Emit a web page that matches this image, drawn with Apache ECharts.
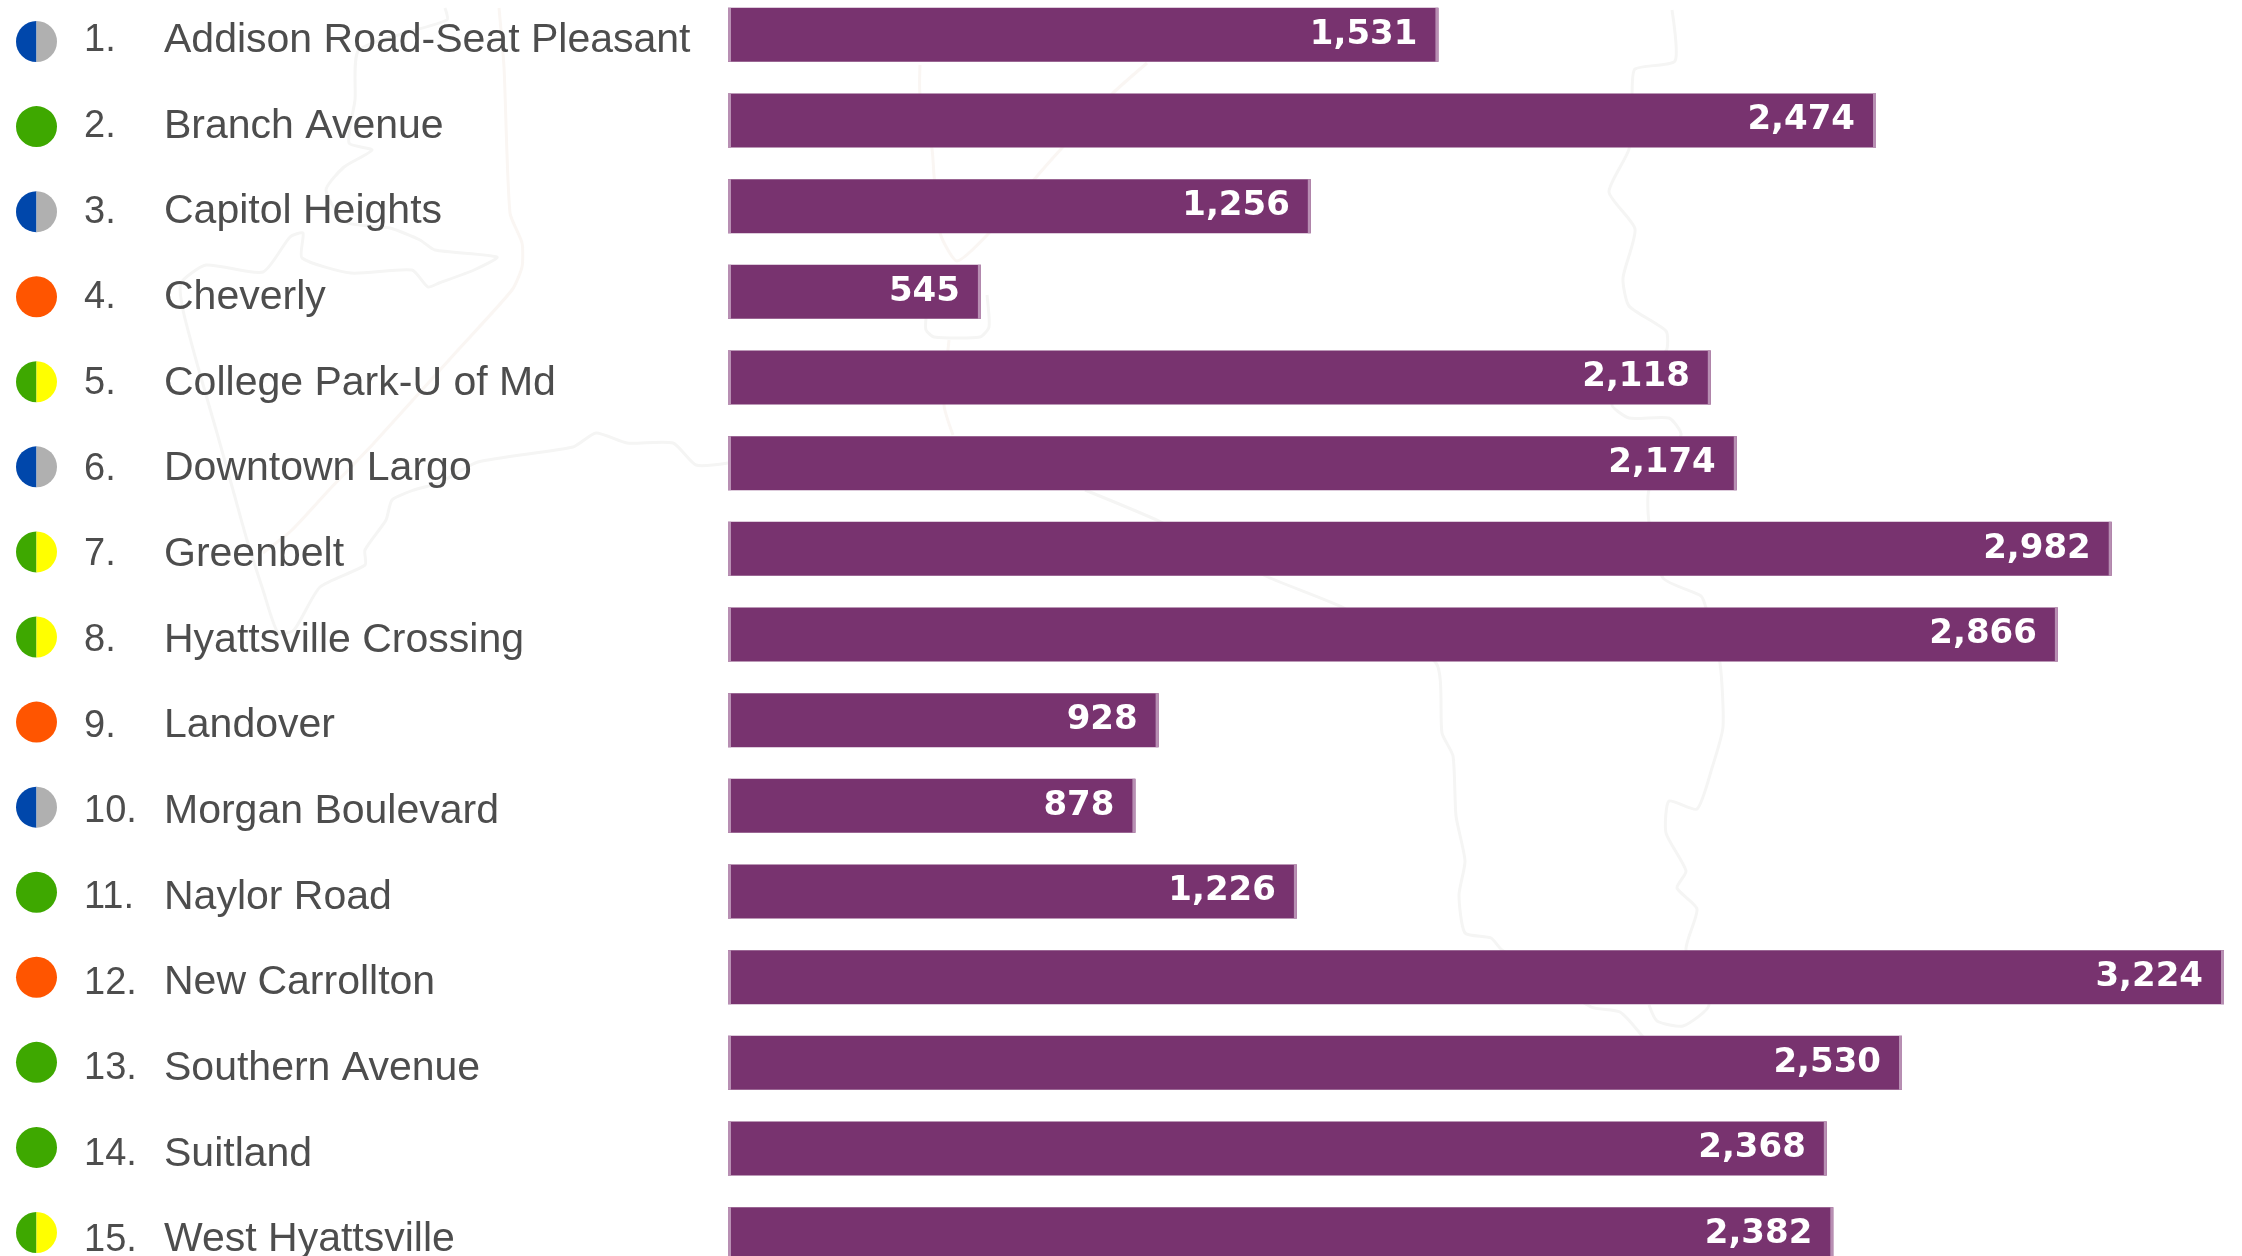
<!DOCTYPE html>
<html>
<head>
<meta charset="utf-8">
<title>Metro stations</title>
<script src="https://cdn.jsdelivr.net/npm/echarts@6/dist/echarts.min.js"></script>
<style>
    html, body { margin: 0; padding: 0; background: #fff; }
    #chart { width: 2242px; height: 1256px; }
</style>
</head>
<body>
<div id="chart"></div>
<script>
// station names, in list order
const stations = [
    "Addison Road-Seat Pleasant", "Branch Avenue", "Capitol Heights", "Cheverly",
    "College Park-U of Md", "Downtown Largo", "Greenbelt", "Hyattsville Crossing",
    "Landover", "Morgan Boulevard", "Naylor Road", "New Carrollton",
    "Southern Avenue", "Suitland", "West Hyattsville"
];
const values = [1531, 2474, 1256, 545, 2118, 2174, 2982, 2866, 928, 878, 1226, 3224, 2530, 2368, 2382];
// metro lines serving each station: left half and right half of the dot
const leftLine = ["blue", "green", "blue", "orange", "green", "blue", "green", "green", "orange", "blue", "green", "orange", "green", "green", "green"];
const rightLine = ["silver", "green", "silver", "orange", "yellow", "silver", "yellow", "yellow", "orange", "silver", "green", "orange", "green", "green", "yellow"];

const lineColors = { blue: "#0047ab", silver: "#b0b0b0", green: "#3ea800", orange: "#ff5500", yellow: "#ffff00" };
const barColor = "#78336f";
const edgeColor = "#b88fb3";

// faint county outline behind the chart, decoration only (not data)
const outlineGrey = [
    [[445, 8], [447, 20], [359, 50], [355, 100], [349, 143], [372, 150], [344, 167], [326, 190], [345, 222], [390, 228], [420, 240], [435, 250], [497, 257], [474, 270], [439, 283], [428, 287], [412, 270], [351, 273], [302, 258], [303, 233], [290, 237], [263, 272], [206, 265], [181, 283], [183, 310], [198, 367], [217, 433], [233, 490], [247, 540], [263, 590], [278, 633], [294, 630], [320, 587], [365, 565], [365, 550], [386, 520], [392, 500], [414, 490], [439, 483], [478, 462], [573, 447], [596, 433], [627, 443], [673, 443], [696, 465], [728, 463]],
    [[926, 318], [926, 330], [934, 337], [980, 337], [989, 327], [987, 295]],
    [[1085, 490], [1161, 522], [1268, 577], [1344, 608], [1436, 663], [1442, 733], [1453, 756], [1456, 816], [1465, 861], [1459, 895], [1465, 933], [1491, 938], [1502, 950], [1591, 1007], [1620, 1012], [1643, 1037]],
    [[1672, 10], [1675, 61], [1635, 69], [1632, 94], [1629, 149], [1609, 192], [1635, 229], [1623, 278], [1629, 306], [1666, 331], [1666, 351], [1612, 404], [1629, 418], [1669, 418], [1681, 435], [1649, 490], [1649, 522], [1663, 578], [1701, 596], [1706, 608], [1720, 663], [1723, 727], [1712, 768], [1697, 809], [1669, 801], [1666, 833], [1686, 871], [1677, 888], [1697, 909], [1686, 950], [1709, 1005], [1683, 1026], [1657, 1021], [1649, 1005]]
];
const outlineWarm = [
    [[499, 8], [504, 67], [510, 213], [522, 243], [522, 267], [512, 290], [458, 350], [374, 443], [329, 490], [292, 530], [263, 553]],
    [[920, 65], [920, 94], [932, 149], [934, 175], [940, 233], [957, 261], [989, 233], [1038, 175], [1061, 149], [1112, 94], [1147, 63]],
    [[949, 340], [944, 405], [953, 435]]
];

function outlineGraphic(paths, color) {
    return paths.map((points) => ({
        type: "polyline",
        silent: true,
        z: 0,
        shape: { points: points, smooth: 0.2 },
        style: { fill: null, stroke: color, lineWidth: 3 }
    }));
}

const chart = echarts.init(document.getElementById("chart"), null, { renderer: "canvas" });

const option = {
    animation: false,
    backgroundColor: "#ffffff",
    graphic: outlineGraphic(outlineGrey, "#f5f5f4").concat(outlineGraphic(outlineWarm, "#faf6f3")),
    grid: [
        // bars; the last row runs off the bottom of the page
        { left: 728, top: -8, width: 1496, height: 1285, outerBoundsMode: "none" },
        // dots, their rows are a little tighter than the bars
        { left: 0, top: -1, width: 100, height: 1276, outerBoundsMode: "none" }
    ],
    xAxis: [
        { type: "value", gridIndex: 0, min: 0, max: 3224, show: false },
        { type: "value", gridIndex: 1, min: 0, max: 100, show: false }
    ],
    yAxis: [
        {
            type: "category",
            gridIndex: 0,
            inverse: true,
            data: stations,
            axisLine: { show: false },
            axisTick: { show: false },
            axisLabel: {
                interval: 0,
                align: "left",
                margin: 644,
                padding: [12, 0, 0, 0],
                formatter: (name, i) => "{num|" + (i + 1) + ".}{name|" + name + "}",
                rich: {
                    num: { width: 80, align: "left", fontFamily: "Liberation Sans", fontSize: 38, color: "#4d4d4d" },
                    name: { fontFamily: "Liberation Sans", fontSize: 41, color: "#4d4d4d" }
                }
            }
        },
        { type: "category", gridIndex: 1, inverse: true, data: stations, show: false }
    ],
    series: [
        {
            type: "bar",
            xAxisIndex: 0,
            yAxisIndex: 0,
            barWidth: 54,
            z: 2,
            itemStyle: { color: barColor },
            label: {
                show: true,
                position: "insideRight",
                distance: 21,
                color: "#ffffff",
                fontFamily: "DejaVu Sans",
                fontWeight: "bold",
                fontSize: 34,
                formatter: (p) => p.value.toLocaleString("en-US")
            },
            data: values
        },
        {
            // lighter strip on both ends of each bar
            type: "custom",
            xAxisIndex: 0,
            yAxisIndex: 0,
            z: 3,
            silent: true,
            encode: { x: 0, y: 1 },
            data: values.map((v, i) => [v, i]),
            renderItem: (params, api) => {
                const end = api.coord([api.value(0), api.value(1)]);
                const start = api.coord([0, api.value(1)]);
                const style = { fill: edgeColor };
                return {
                    type: "group",
                    children: [
                        { type: "rect", shape: { x: start[0], y: end[1] - 27, width: 3, height: 54 }, style: style },
                        { type: "rect", shape: { x: end[0] - 3, y: end[1] - 27, width: 3, height: 54 }, style: style }
                    ]
                };
            }
        },
        {
            // metro line dots, split in two when a station has two lines
            type: "custom",
            xAxisIndex: 1,
            yAxisIndex: 1,
            z: 3,
            silent: true,
            encode: { x: 0, y: 1 },
            data: stations.map((s, i) => [0, i]),
            renderItem: (params, api) => {
                const i = api.value(1);
                const y = api.coord([0, i])[1];
                const left = lineColors[leftLine[i]];
                const right = lineColors[rightLine[i]];
                if (left === right) {
                    return { type: "circle", shape: { cx: 36.5, cy: y, r: 20.5 }, style: { fill: left } };
                }
                const half = (color, startAngle, endAngle) => ({
                    type: "sector",
                    shape: { cx: 36.5, cy: y, r: 20.5, r0: 0, startAngle: startAngle, endAngle: endAngle },
                    style: { fill: color }
                });
                return {
                    type: "group",
                    children: [
                        half(left, Math.PI / 2, Math.PI * 1.5),
                        half(right, -Math.PI / 2, Math.PI / 2)
                    ]
                };
            }
        }
    ]
};

chart.setOption(option);
</script>
</body>
</html>
